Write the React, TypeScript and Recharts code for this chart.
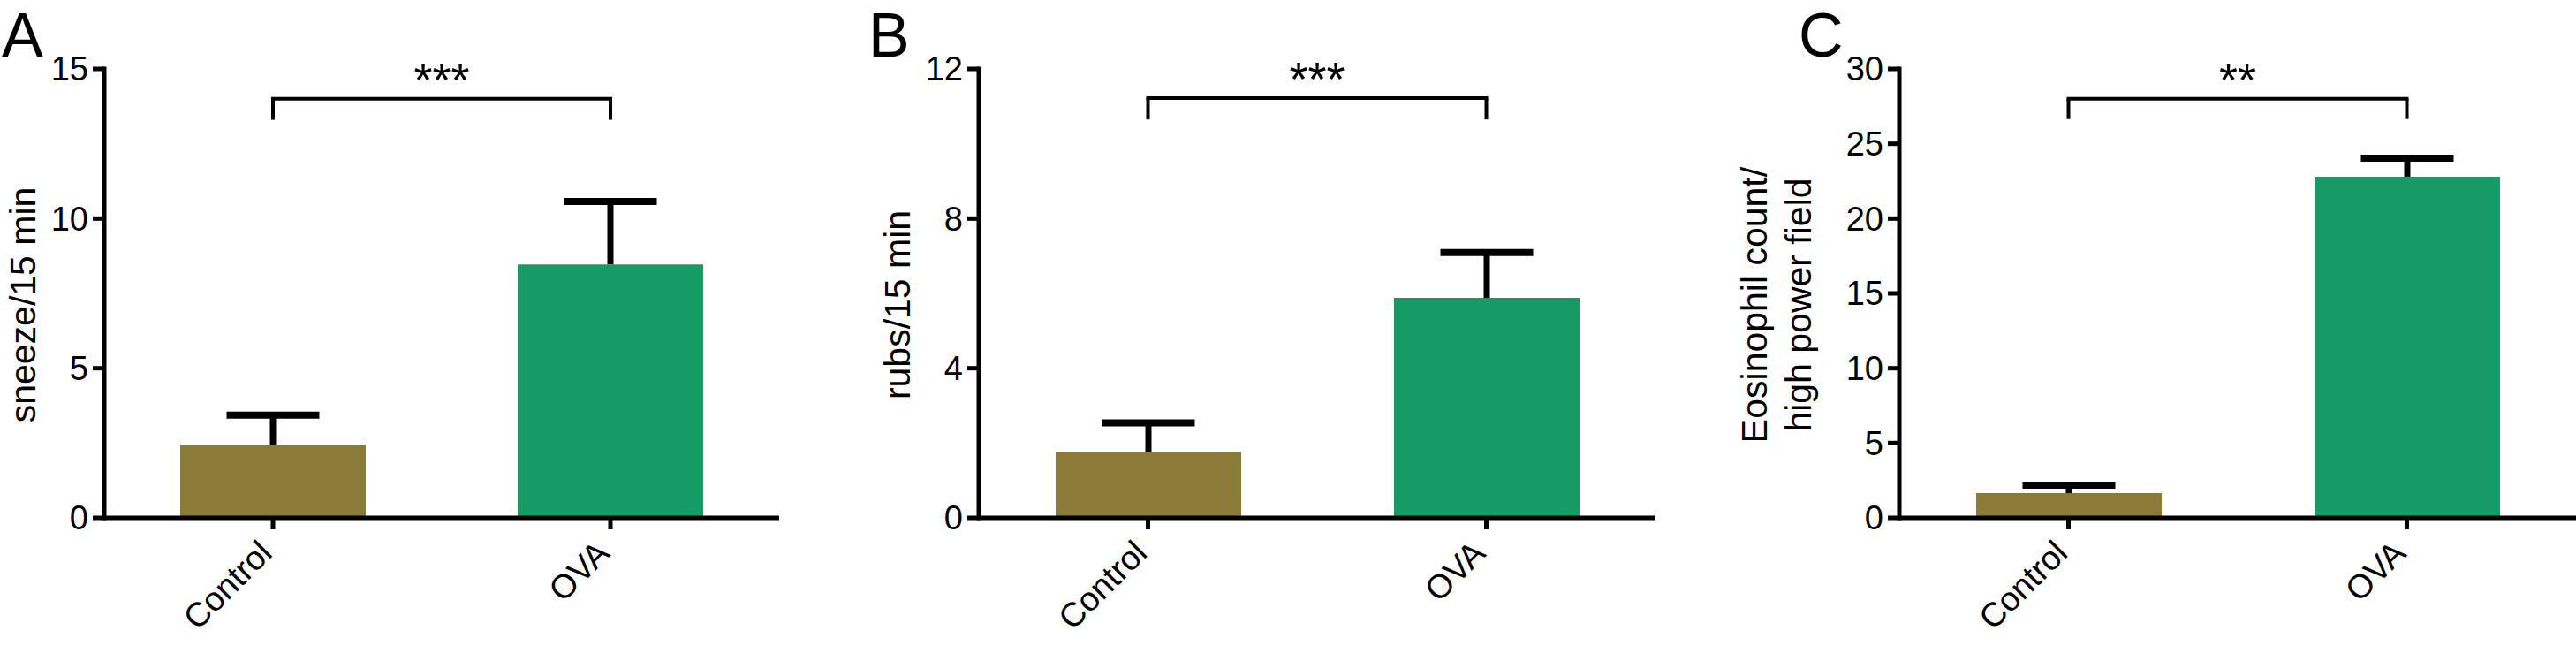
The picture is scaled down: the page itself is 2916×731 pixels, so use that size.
import React from 'react'
import { BarChart, Bar, XAxis, YAxis, Cell, ReferenceLine } from 'recharts'

const FONT = '"Liberation Sans", Arial, Helvetica, sans-serif'

const groups = ['Control', 'OVA']
const barColors = ['#8B7B39', '#179B66']

// A: sneezes
const sneezeMean = [2.45, 8.47]
const sneezeSem = [0.98, 2.1]
const sneezeTicks = [0, 5, 10, 15]

// B: nasal rubs
const rubsMean = [1.76, 5.88]
const rubsSem = [0.78, 1.21]
const rubsTicks = [0, 4, 8, 12]

// C: eosinophils
const eosMean = [1.65, 22.8]
const eosSem = [0.54, 1.24]
const eosTicks = [0, 5, 10, 15, 20, 25, 30]

// significance brackets: [bar level, drop end]
const sneezeBracket = [14.0, 13.3]
const rubsBracket = [11.22, 10.65]
const eosBracket = [28.0, 26.65]

const panels = [
  { letter: 'A', mean: sneezeMean, sem: sneezeSem, ticks: sneezeTicks, bracket: sneezeBracket, stars: '***', title: ['sneeze/15 min'] },
  { letter: 'B', mean: rubsMean, sem: rubsSem, ticks: rubsTicks, bracket: rubsBracket, stars: '***', title: ['rubs/15 min'] },
  { letter: 'C', mean: eosMean, sem: eosSem, ticks: eosTicks, bracket: eosBracket, stars: '**', title: ['Eosinophil count/', 'high power field'] },
]

// layout of each panel on the page
const layouts = [
  { left: 0, width: 882, axisWidth: 118, titleX: [40], letterX: 2 },
  { left: 900, width: 974, axisWidth: 208, titleX: [130], letterX: 983 },
  { left: 1900, width: 1016, axisWidth: 250, titleX: [100, 150], letterX: 2036 },
]

const axisStyle = { stroke: '#000', strokeWidth: 5 }

function ErrShape(props: any) {
  const { x, y, width, height } = props
  const cx = x + width / 2
  return (
    <g>
      <line x1={cx} x2={cx} y1={y + height} y2={y} stroke="#000" strokeWidth={7} />
      <line x1={cx - width / 4} x2={cx + width / 4} y1={y} y2={y} stroke="#000" strokeWidth={8} />
    </g>
  )
}

function XTick(props: any) {
  const { x, y, payload } = props
  const px = x + 1
  return (
    <text x={px} y={y} transform={`rotate(-45, ${px}, ${y})`} textAnchor="end" fontSize={38} fontFamily={FONT} fill="#000">
      {payload.value}
    </text>
  )
}

function Panel({ p, l }: { p: (typeof panels)[number]; l: (typeof layouts)[number] }) {
  const data = groups.map((g, i) => ({ group: g, mean: p.mean[i], sem: p.sem[i] }))
  const max = p.ticks[p.ticks.length - 1]
  const [level, drop] = p.bracket
  const line = { stroke: '#000', strokeWidth: 4 }

  return (
    <div style={{ position: 'absolute', left: l.left, top: 0 }}>
      <BarChart width={l.width} height={731} data={data} margin={{ top: 78, right: 0, bottom: 0, left: 0 }} barSize={210}>
        <XAxis
          dataKey="group"
          height={145}
          interval={0}
          tickSize={13}
          tickMargin={29}
          axisLine={axisStyle}
          tickLine={axisStyle}
          tick={<XTick />}
        />
        <YAxis
          width={l.axisWidth}
          domain={[0, max]}
          ticks={p.ticks}
          interval={0}
          tickSize={13}
          tickMargin={5}
          axisLine={{ ...axisStyle, strokeLinecap: 'square' }}
          tickLine={axisStyle}
          tick={{ fill: '#000', fontSize: 38, fontFamily: FONT }}
          label={() => (
            <g>
              {p.title.map((t, i) => (
                <text
                  key={t}
                  x={l.titleX[i]}
                  y={345}
                  transform={`rotate(-90, ${l.titleX[i]}, 345)`}
                  textAnchor="middle"
                  fontSize={41}
                  fontFamily={FONT}
                  fill="#000"
                >
                  {t}
                </text>
              ))}
            </g>
          )}
        />
        <Bar dataKey="mean" stackId="s" isAnimationActive={false}>
          {data.map((d, i) => (
            <Cell key={d.group} fill={barColors[i]} />
          ))}
        </Bar>
        <Bar dataKey="sem" stackId="s" shape={ErrShape} isAnimationActive={false} />
        <ReferenceLine
          segment={[{ x: groups[0], y: level }, { x: groups[1], y: level }]}
          {...line}
          strokeLinecap="square"
          label={{ value: p.stars, position: 'top', offset: 3, fill: '#000', fontSize: 54, fontFamily: FONT }}
        />
        <ReferenceLine segment={[{ x: groups[0], y: level }, { x: groups[0], y: drop }]} {...line} />
        <ReferenceLine segment={[{ x: groups[1], y: level }, { x: groups[1], y: drop }]} {...line} />
      </BarChart>
      <div
        style={{
          position: 'absolute',
          left: l.letterX - l.left,
          top: 0,
          fontSize: 70,
          lineHeight: '80px',
          fontFamily: FONT,
          color: '#000',
        }}
      >
        {p.letter}
      </div>
    </div>
  )
}

export default function App() {
  return (
    <div style={{ position: 'absolute', left: 0, top: 0, width: 2916, height: 731, background: '#fff', overflow: 'hidden' }}>
      {panels.map((p, i) => (
        <Panel key={p.letter} p={p} l={layouts[i]} />
      ))}
    </div>
  )
}
